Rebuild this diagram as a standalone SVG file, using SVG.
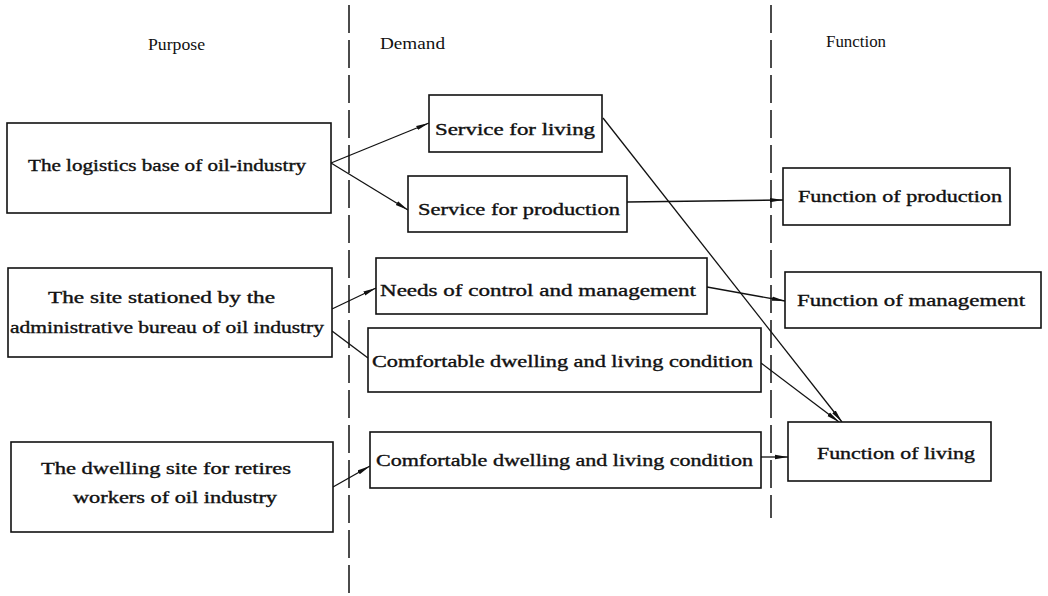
<svg xmlns="http://www.w3.org/2000/svg" width="1048" height="596" viewBox="0 0 1048 596">
<style>
.box{fill:#fff;stroke:#111;stroke-width:1.6}
.t{font-family:"Liberation Serif","DejaVu Serif",serif;font-size:16px;fill:#111;stroke:#111;stroke-width:0.35}
.h{font-family:"Liberation Serif","DejaVu Serif",serif;font-size:16px;fill:#111}
.c{fill:none;stroke:#111;stroke-width:1.3}
.dash{fill:none;stroke:#111;stroke-width:1.5;stroke-dasharray:28 7}
</style>
<defs>
<marker id="arr" markerUnits="userSpaceOnUse" markerWidth="14" markerHeight="8" refX="13" refY="3" orient="auto">
<path d="M0,0.8 L13,3 L0,5.2 Z" fill="#111"/>
</marker>
</defs>
<rect width="1048" height="596" fill="#fff"/>
<g id="dividers">
<line class="dash" x1="349" y1="5" x2="349" y2="596"/>
<line class="dash" x1="771" y1="5" x2="771" y2="518"/>
</g>
<g id="headers">
<text class="h" x="148" y="50" textLength="57" lengthAdjust="spacingAndGlyphs">Purpose</text>
<text class="h" x="380" y="49" textLength="65" lengthAdjust="spacingAndGlyphs">Demand</text>
<text class="h" x="826" y="47" textLength="60" lengthAdjust="spacingAndGlyphs">Function</text>
</g>
<g id="connectors">
<line class="c" x1="331" y1="163" x2="429" y2="123" marker-end="url(#arr)"/>
<line class="c" x1="331" y1="163" x2="408" y2="210" marker-end="url(#arr)"/>
<line class="c" x1="627" y1="202" x2="783" y2="200" marker-end="url(#arr)"/>
<line class="c" x1="603" y1="118" x2="842" y2="422" marker-end="url(#arr)"/>
<line class="c" x1="332" y1="309" x2="376" y2="288" marker-end="url(#arr)"/>
<line class="c" x1="332" y1="331" x2="368" y2="358"/>
<line class="c" x1="707" y1="287" x2="785" y2="301" marker-end="url(#arr)"/>
<line class="c" x1="761" y1="363" x2="839" y2="422" marker-end="url(#arr)"/>
<line class="c" x1="761" y1="457" x2="788" y2="457" marker-end="url(#arr)"/>
<line class="c" x1="333" y1="487" x2="370" y2="466" marker-end="url(#arr)"/>
</g>
<g id="purpose1">
<rect class="box" x="7" y="123" width="324" height="90"/>
<text class="t" x="28" y="171" textLength="278" lengthAdjust="spacingAndGlyphs">The logistics base of oil-industry</text>
</g>
<g id="purpose2">
<rect class="box" x="8" y="268" width="324" height="89"/>
<text class="t" x="48" y="303" textLength="227" lengthAdjust="spacingAndGlyphs">The site stationed by the</text>
<text class="t" x="10" y="333" textLength="314" lengthAdjust="spacingAndGlyphs">administrative bureau of oil industry</text>
</g>
<g id="purpose3">
<rect class="box" x="11" y="442" width="322" height="90"/>
<text class="t" x="41" y="474" textLength="250" lengthAdjust="spacingAndGlyphs">The dwelling site for retires</text>
<text class="t" x="73" y="503" textLength="204" lengthAdjust="spacingAndGlyphs">workers of oil industry</text>
</g>
<g id="demand1">
<rect class="box" x="429" y="95" width="173" height="57"/>
<text class="t" x="435" y="135" textLength="160" lengthAdjust="spacingAndGlyphs">Service for living</text>
</g>
<g id="demand2">
<rect class="box" x="408" y="176" width="219" height="56"/>
<text class="t" x="418" y="215" textLength="202" lengthAdjust="spacingAndGlyphs">Service for production</text>
</g>
<g id="demand3">
<rect class="box" x="376" y="258" width="331" height="56"/>
<text class="t" x="380" y="296" textLength="316" lengthAdjust="spacingAndGlyphs">Needs of  control and management</text>
</g>
<g id="demand4">
<rect class="box" x="368" y="328" width="393" height="64"/>
<text class="t" x="372" y="367" textLength="381" lengthAdjust="spacingAndGlyphs">Comfortable dwelling and living condition</text>
</g>
<g id="demand5">
<rect class="box" x="370" y="432" width="391" height="56"/>
<text class="t" x="376" y="466" textLength="377" lengthAdjust="spacingAndGlyphs">Comfortable dwelling and living condition</text>
</g>
<g id="function1">
<rect class="box" x="783" y="168" width="227" height="57"/>
<text class="t" x="798" y="202" textLength="204" lengthAdjust="spacingAndGlyphs">Function of production</text>
</g>
<g id="function2">
<rect class="box" x="785" y="272" width="256" height="56"/>
<text class="t" x="797" y="306" textLength="228" lengthAdjust="spacingAndGlyphs">Function  of management</text>
</g>
<g id="function3">
<rect class="box" x="788" y="422" width="203" height="59"/>
<text class="t" x="817" y="459" textLength="158" lengthAdjust="spacingAndGlyphs">Function of living</text>
</g>
</svg>
